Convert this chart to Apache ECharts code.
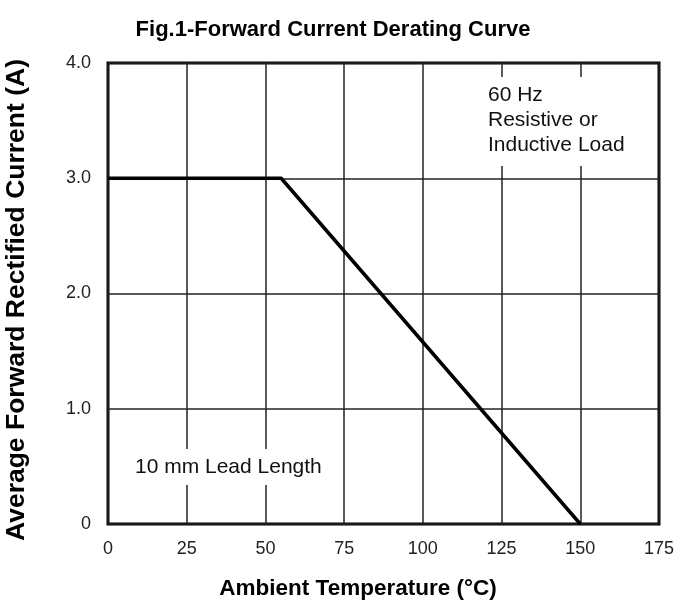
<!DOCTYPE html>
<html><head><meta charset="utf-8">
<script src="https://cdn.jsdelivr.net/npm/echarts@6/dist/echarts.min.js"></script>
<style>html,body{margin:0;padding:0;background:#fff}#c{width:680px;height:608px}</style>
</head><body><div id="c"></div>
<script>
const titleText = 'Fig.1-Forward Current Derating Curve';
const xTitle = 'Ambient Temperature (°C)';
const yTitle = 'Average Forward Rectified Current (A)';
const xTicks = [0, 25, 50, 75, 100, 125, 150, 175];
const yTicks = [0, 1, 2, 3, 4];
const temperature = [0, 55, 150];
const current = [3.0, 3.0, 0];
const noteTopRight = ['60 Hz', 'Resistive or', 'Inductive Load'];
const noteBottomLeft = '10 mm Lead Length';

const font = 'Arial, "Liberation Sans", Helvetica, sans-serif';
const chart = echarts.init(document.getElementById('c'), null, {renderer: 'canvas'});
const grid = {left: 108, right: 21, top: 63, bottom: 84};
chart.setOption({
  animation: false,
  backgroundColor: '#fff',
  grid: Object.assign({show: true, borderColor: '#000', borderWidth: 3, backgroundColor: 'transparent'}, grid),
  xAxis: {
    type: 'value', min: xTicks[0], max: xTicks[xTicks.length - 1], interval: 25,
    axisLine: {show: false}, axisTick: {show: false},
    axisLabel: {color: '#222', fontFamily: font, fontSize: 18, margin: 16},
    splitLine: {show: true, lineStyle: {color: '#222', width: 1.5}}
  },
  yAxis: {
    type: 'value', min: yTicks[0], max: yTicks[yTicks.length - 1], interval: 1,
    axisLine: {show: false}, axisTick: {show: false},
    axisLabel: {color: '#222', fontFamily: font, fontSize: 18, margin: 17,
      formatter: v => v === 0 ? '0' : v.toFixed(1)},
    splitLine: {show: true, lineStyle: {color: '#222', width: 1.5}}
  },
  series: [{
    type: 'line', data: temperature.map((t, i) => [t, current[i]]),
    showSymbol: false, symbol: 'none', z: 5,
    lineStyle: {color: '#000', width: 3.5}
  }],
  graphic: [
    {type: 'text', x: 333, y: 30, z: 20, style: {text: titleText, font: 'bold 22px ' + font, fill: '#000', textAlign: 'center', textVerticalAlign: 'middle'}},
    {type: 'text', x: 358, y: 589, z: 20, style: {text: xTitle, font: 'bold 22.5px ' + font, fill: '#000', textAlign: 'center', textVerticalAlign: 'middle'}},
    {type: 'text', x: 17, y: 300, rotation: Math.PI / 2, z: 20, style: {text: yTitle, font: 'bold 26.5px ' + font, fill: '#000', textAlign: 'center', textVerticalAlign: 'middle'}},
    {type: 'text', x: 481, y: 77, z: 3, style: {text: noteTopRight.join('\n'), font: '21px ' + font, lineHeight: 25, fill: '#111', backgroundColor: '#fff', padding: [6, 6, 8, 7]}},
    {type: 'text', x: 128, y: 449, z: 3, style: {text: noteBottomLeft, font: '21px ' + font, lineHeight: 22, fill: '#111', backgroundColor: '#fff', padding: [7, 7, 7, 7]}}
  ]
});
</script></body></html>
